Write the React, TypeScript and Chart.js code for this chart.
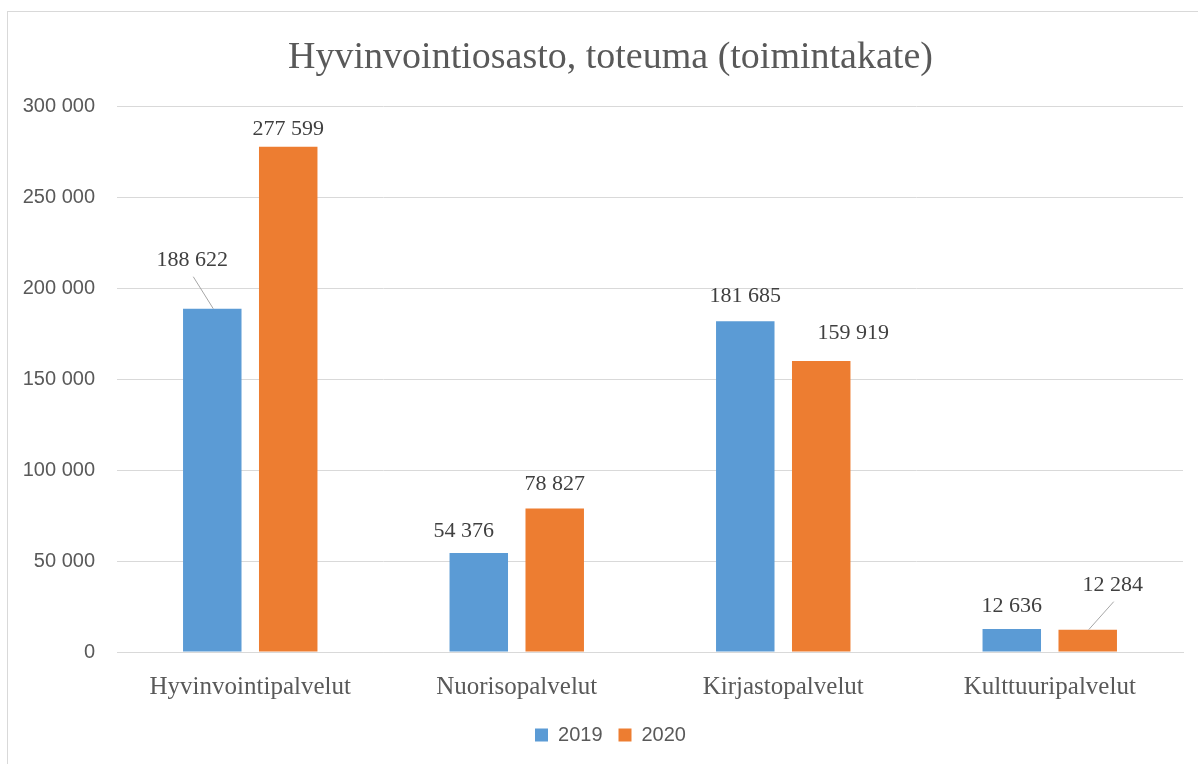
import { useEffect, useRef } from 'react';
import { Chart, registerables } from 'chart.js';

Chart.register(...registerables);

const categories = ['Hyvinvointipalvelut', 'Nuorisopalvelut', 'Kirjastopalvelut', 'Kulttuuripalvelut'];
const seriesNames = ['2019', '2020'];
const values2019 = [188622, 54376, 181685, 12636];
const values2020 = [277599, 78827, 159919, 12284];
const yMin = 0;
const yMax = 300000;
const yStep = 50000;

const chartTitle = 'Hyvinvointiosasto, toteuma (toimintakate)';

const fmt = (v: number) => String(Math.round(v)).replace(/\B(?=(\d{3})+(?!\d))/g, ' ');

// label placement per dataset/bar: [dx, dy, leader line]
const labelPlacement: [number, number, boolean][][] = [
  [[-20, -25, true], [-15, 1, false], [0, -2, false], [0, 0, false]],
  [[0, 5, false], [0, -1, false], [32, -5, false], [25, -21, true]],
];

const dataLabelPlugin = {
  id: 'dataLabels',
  afterDatasetsDraw(chart: any) {
    const ctx = chart.ctx;
    ctx.save();
    ctx.font = '22px "Liberation Serif"';
    ctx.fillStyle = '#404040';
    ctx.textAlign = 'center';
    ctx.textBaseline = 'middle';
    chart.data.datasets.forEach((ds: any, di: number) => {
      const meta = chart.getDatasetMeta(di);
      meta.data.forEach((bar: any, i: number) => {
        const [dx, dy, leader] = labelPlacement[di][i];
        const x = bar.x + dx;
        const y = bar.y - 23 + dy;
        if (leader) {
          ctx.strokeStyle = '#a6a6a6';
          ctx.lineWidth = 1;
          ctx.beginPath();
          ctx.moveTo(x + 1, y + 16);
          ctx.lineTo(bar.x + 1, bar.y);
          ctx.stroke();
        }
        ctx.fillText(fmt(ds.data[i]), x, y);
      });
    });
    ctx.restore();
  },
};

export default function App() {
  const ref = useRef<HTMLCanvasElement | null>(null);

  useEffect(() => {
    if (!ref.current) return;
    const chart = new Chart(ref.current, {
      type: 'bar',
      data: {
        labels: categories,
        datasets: [
          {
            label: seriesNames[0],
            data: values2019,
            backgroundColor: '#5B9BD5',
            categoryPercentage: 0.57,
            barPercentage: 0.77,
          },
          {
            label: seriesNames[1],
            data: values2020,
            backgroundColor: '#ED7D31',
            categoryPercentage: 0.57,
            barPercentage: 0.77,
          },
        ],
      },
      options: {
        responsive: true,
        maintainAspectRatio: false,
        animation: false,
        layout: { padding: { left: 0, right: 5, top: 0, bottom: 9 } },
        plugins: {
          title: {
            display: true,
            text: chartTitle,
            color: '#595959',
            font: { family: '"Liberation Serif"', size: 38, weight: 'normal', lineHeight: 1.2 },
            padding: { top: 23, bottom: 25.4 },
          },
          legend: {
            position: 'bottom',
            labels: {
              boxWidth: 13,
              boxHeight: 13,
              padding: 16,
              color: '#595959',
              font: { family: '"Liberation Sans"', size: 20 },
            },
          },
          tooltip: { enabled: false },
        },
        scales: {
          x: {
            grid: { display: false },
            border: { color: '#d9d9d9' },
            ticks: {
              color: '#595959',
              font: { family: '"Liberation Serif"', size: 25 },
              padding: 12,
            },
            afterFit: (s: any) => {
              s.height = 57;
            },
          },
          y: {
            min: yMin,
            max: yMax,
            ticks: {
              stepSize: yStep,
              callback: (v: any) => fmt(Number(v)),
              color: '#595959',
              font: { family: '"Liberation Sans"', size: 20 },
              padding: 22,
            },
            grid: { color: '#d9d9d9', drawTicks: false },
            border: { display: false },
            afterFit: (s: any) => {
              s.width = 109;
            },
          },
          spacer: {
            type: 'linear',
            position: 'right',
            display: true,
            grid: { display: false, drawTicks: false },
            border: { display: false },
            ticks: { display: false },
            afterFit: (s: any) => {
              s.width = 30;
            },
          },
        },
      },
      plugins: [dataLabelPlugin],
    });
    return () => chart.destroy();
  }, []);

  return (
    <div
      style={{
        position: 'absolute',
        left: 7,
        top: 11,
        width: 1191,
        height: 753,
        borderTop: '1px solid #d9d9d9',
        borderLeft: '1px solid #d9d9d9',
        boxSizing: 'border-box',
        overflow: 'hidden',
        background: '#fff',
      }}
    >
      <div style={{ position: 'relative', width: 1210, height: 752 }}>
        <canvas ref={ref} />
      </div>
    </div>
  );
}
